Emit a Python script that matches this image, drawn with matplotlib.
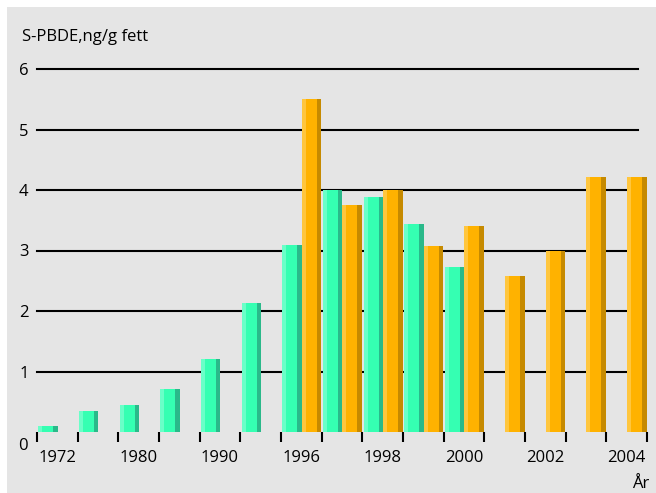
import numpy as np
import matplotlib
matplotlib.use("Agg")
import matplotlib.pyplot as plt
from matplotlib.patches import Rectangle

plt.rcParams["font.family"] = ["Open Sans", "DejaVu Sans"]

# x categories (only every other early year is labelled on the axis)
year_labels = ["1972", "", "1980", "", "1990", "", "1996", "",
               "1998", "", "2000", "", "2002", "", "2004"]
green_vals = [0.10, 0.35, 0.45, 0.71, 1.21, 2.13, 3.09, 4.00,
              3.88, 3.43, 2.73, np.nan, np.nan, np.nan, np.nan]
orange_vals = [np.nan, np.nan, np.nan, np.nan, np.nan, np.nan, 5.50, 3.75,
               4.00, 3.07, 3.40, 2.58, 3.00, 4.21, 4.21]
y_ticks = [1, 2, 3, 4, 5, 6]

W, H = 656, 493
fig = plt.figure(figsize=(W / 100, H / 100), dpi=100)
fig.patch.set_facecolor("white")
fig.patches.append(Rectangle((7 / W, 0), 1 - 7 / W, 1 - 7 / H,
                             transform=fig.transFigure, facecolor="#e5e5e5",
                             edgecolor="none", zorder=-10))

ax = fig.add_axes([37 / W, (H - 432) / H, 610 / W, 363 / H])
ax.set_facecolor("none")
ax.set_xlim(0, len(year_labels))
ax.set_ylim(0, 6)
for s in ax.spines.values():
    s.set_visible(False)

# horizontal grid lines
for y in y_ticks:
    ax.axhline(y, xmin=0, xmax=(638 - 37) / 610, color="black", lw=1.5,
               zorder=1, clip_on=False)


def shaded_bars(xs, vals, main, light, dark, bw=0.48):
    vals = np.asarray(vals, dtype=float)
    ok = ~np.isnan(vals)
    xs = np.asarray(xs)[ok]
    vals = vals[ok]
    ax.bar(xs, vals, width=bw, align="edge", color=main, zorder=3)
    ax.bar(xs, vals, width=0.1, align="edge", color=light, zorder=4)
    ax.bar(xs + bw - 0.11, vals, width=0.11, align="edge", color=dark, zorder=4)


idx = np.arange(len(year_labels))
shaded_bars(idx + 0.03, green_vals, "#35ffb2", "#6affc8", "#2ab98a")
shaded_bars(idx + 0.51, orange_vals, "#ffb200", "#ffc63e", "#c68a00")

# ticks at category boundaries, labels at centres
ax.set_xticks(np.arange(len(year_labels) + 1))
ax.set_xticklabels([])
ax.set_xticks(idx + 0.5, minor=True)
ax.set_xticklabels(year_labels, minor=True, fontsize=12)
ax.tick_params(axis="x", which="major", direction="out", length=7.2,
               width=1.5, color="black")
ax.tick_params(axis="x", which="minor", length=0, pad=13)

ax.set_yticks(y_ticks)
ax.set_yticklabels([str(t) for t in y_ticks], fontsize=12)
ax.tick_params(axis="y", length=0, pad=6)
ax.text(-0.22, 0, "0", fontsize=12, ha="right", va="center",
        transform=ax.transData + matplotlib.transforms.ScaledTranslation(
            0, -14 / 100, fig.dpi_scale_trans))

fig.text(22 / W, 1 - 37 / H, "S-PBDE,ng/g fett", fontsize=12,
         ha="left", va="center")
fig.text(641 / W, 1 - 484 / H, "År", fontsize=12, ha="center", va="center")

fig.savefig("out.png", dpi=100)
